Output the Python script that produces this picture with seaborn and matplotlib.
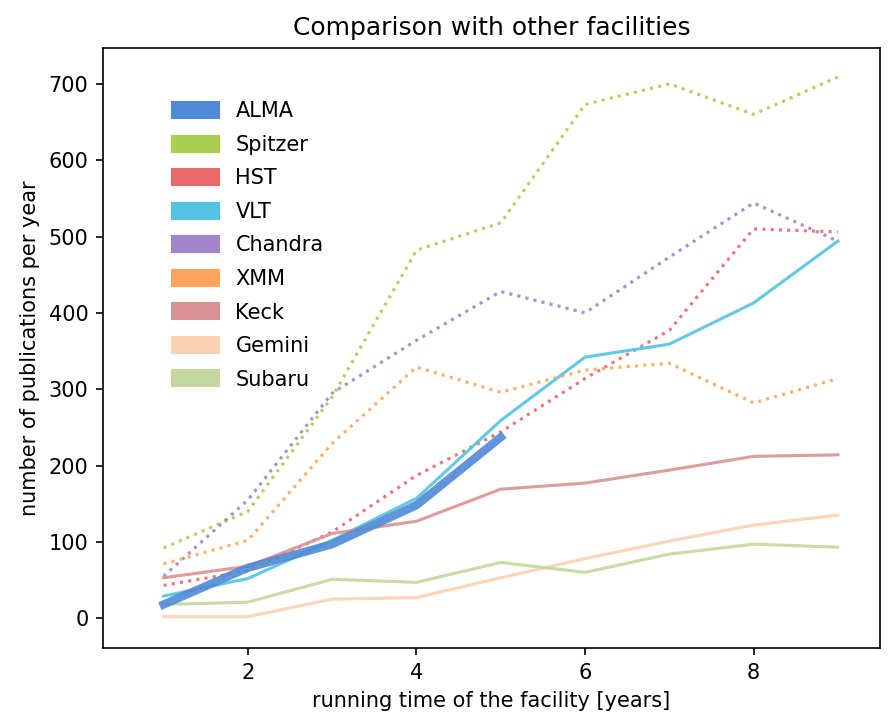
import numpy as np
import pandas as pd
import matplotlib
matplotlib.use("Agg")
import matplotlib.pyplot as plt
import matplotlib.patches as mpatches
import seaborn as sns

# running time of the facility [years]
years = [1, 2, 3, 4, 5, 6, 7, 8, 9]

# publications per year
alma = [18, 66, 97, 148, 237]
spitzer = [92, 140, 290, 482, 518, 673, 700, 660, 709]
hst = [43, 62, 113, 187, 244, 314, 377, 510, 506]
vlt = [29, 52, 102, 157, 259, 342, 359, 413, 494]
chandra = [55, 155, 295, 364, 428, 400, 473, 544, 494]
xmm = [71, 102, 229, 329, 296, 325, 334, 282, 314]
keck = [53, 68, 111, 127, 169, 177, 194, 212, 214]
gemini = [2, 2, 25, 27, 53, 78, 101, 122, 135]
subaru = [18, 21, 51, 47, 73, 60, 84, 97, 93]

names = ["ALMA", "Spitzer", "HST", "VLT", "Chandra", "XMM", "Keck", "Gemini", "Subaru"]
series = [alma, spitzer, hst, vlt, chandra, xmm, keck, gemini, subaru]
colors = ["#4f8ad8", "#a8cf4f", "#e8696a", "#52c4e1", "#a383cb",
          "#ffa55e", "#d99393", "#fdd1b1", "#c3d89d"]
styles = ["-", ":", ":", "-", ":", ":", "-", "-", "-"]
widths = [4.0, 1.5, 1.5, 1.5, 1.5, 1.5, 1.5, 1.5, 1.5]


def plotFig(fig_location: str):
    fig = plt.figure(figsize=(893 / 150, 713 / 150), dpi=150)
    ax = fig.add_axes([0.1153, 0.0912, 0.8701, 0.8415])

    # draw the others first, ALMA on top
    for i in list(range(1, len(names))) + [0]:
        vals = series[i]
        sns.lineplot(x=years[:len(vals)], y=vals, ax=ax, color=colors[i],
                     linestyle=styles[i], linewidth=widths[i], alpha=0.9,
                     zorder=3 if i == 0 else 2)

    ax.set_xlim(0.28, 9.5)
    ax.set_ylim(-39, 747)
    ax.set_title("Comparison with other facilities")
    ax.set_xlabel("running time of the facility [years]")
    ax.set_ylabel("number of publications per year")

    handles = [mpatches.Patch(color=c, label=n) for c, n in zip(colors, names)]
    ax.legend(handles=handles, loc="upper left", bbox_to_anchor=(0.078, 0.925),
              borderaxespad=0, frameon=False, handlelength=2.25, handleheight=0.8,
              labelspacing=0.65)

    fig.savefig(fig_location, dpi=150)
    plt.close(fig)


if __name__ == "__main__":
    plotFig("out.png")
